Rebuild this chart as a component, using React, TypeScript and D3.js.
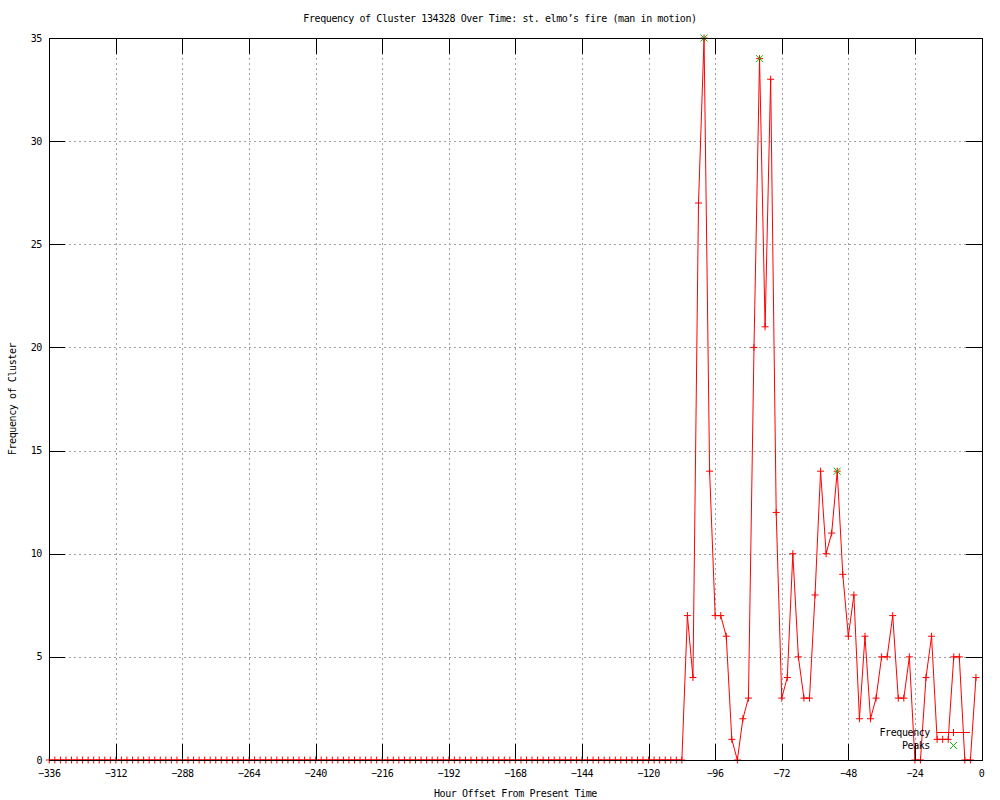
import React from "react";
import * as d3 from "d3";

const title = "Frequency of Cluster 134328 Over Time: st. elmo\u2019s fire (man in motion)";
const xLabel = "Hour Offset From Present Time";
const yLabel = "Frequency of Cluster";

const xTicks = [-336, -312, -288, -264, -240, -216, -192, -168, -144, -120, -96, -72, -48, -24, 0];
const yTicks = [0, 5, 10, 15, 20, 25, 30, 35];

// hours: every 2 hours from -336 to -2
const hours: number[] = d3.range(-336, 0, 2);

const frequency: number[] = [
  // -336 .. -110
  0, 0, 0, 0, 0, 0, 0, 0, 0, 0, 0, 0, 0, 0, 0, 0, 0, 0, 0, 0,
  0, 0, 0, 0, 0, 0, 0, 0, 0, 0, 0, 0, 0, 0, 0, 0, 0, 0, 0, 0,
  0, 0, 0, 0, 0, 0, 0, 0, 0, 0, 0, 0, 0, 0, 0, 0, 0, 0, 0, 0,
  0, 0, 0, 0, 0, 0, 0, 0, 0, 0, 0, 0, 0, 0, 0, 0, 0, 0, 0, 0,
  0, 0, 0, 0, 0, 0, 0, 0, 0, 0, 0, 0, 0, 0, 0, 0, 0, 0, 0, 0,
  0, 0, 0, 0, 0, 0, 0, 0, 0, 0, 0, 0, 0, 0,
  // -108 .. -2
  0, 7, 4, 27, 35, 14, 7, 7, 6, 1, 0, 2, 3, 20, 34, 21, 33, 12, 3, 4,
  10, 5, 3, 3, 8, 14, 10, 11, 14, 9, 6, 8, 2, 6, 2, 3, 5, 5, 7, 3,
  3, 5, 0, 0, 4, 6, 1, 1, 1, 5, 5, 0, 0, 4,
];

const peakHours = [-100, -80, -52];
const peakValues = [35, 34, 14];

const FONT = "'DejaVu Sans Mono', 'Liberation Mono', monospace";

export default function App() {
  const W = 1000, H = 800;
  const left = 49.3, right = 981.5, top = 38, bottom = 760;
  const x = d3.scaleLinear().domain([-336, 0]).range([left, right]);
  const y = d3.scaleLinear().domain([0, 35]).range([bottom, top]);
  const tick = 16;

  const pts = hours.map((h, i) => [h, frequency[i]] as [number, number]);
  const line = d3.line<[number, number]>().x(d => x(d[0])).y(d => y(d[1]));

  const textStyle: React.CSSProperties = { fontFamily: FONT, fontSize: 10, letterSpacing: -0.4 };
  const plus = (cx: number, cy: number, color: string, key: string) => (
    <path key={key} d={`M${cx - 3.5},${cy}H${cx + 3.5}M${cx},${cy - 3.5}V${cy + 3.5}`} stroke={color} strokeWidth={1} fill="none" />
  );
  const cross = (cx: number, cy: number, color: string, key: string) => (
    <path key={key} d={`M${cx - 3.5},${cy - 3.5}L${cx + 3.5},${cy + 3.5}M${cx - 3.5},${cy + 3.5}L${cx + 3.5},${cy - 3.5}`} stroke={color} strokeWidth={1} fill="none" />
  );

  return (
    <svg width={W} height={H} style={{ position: "absolute", left: 0, top: 0, background: "#fff" }}>
      <rect x={0} y={0} width={W} height={H} fill="#fff" />
      {/* grid */}
      <g stroke="#a0a0a0" strokeWidth={1} strokeDasharray="2,3" shapeRendering="crispEdges">
        {xTicks.filter(t => t !== -336 && t !== 0).map(t => (
          <line key={"gx" + t} x1={Math.round(x(t)) + 0.5} x2={Math.round(x(t)) + 0.5} y1={top} y2={bottom} />
        ))}
        {yTicks.filter(t => t !== 0 && t !== 35).map(t => (
          <line key={"gy" + t} x1={left} x2={right} y1={Math.round(y(t)) + 0.5} y2={Math.round(y(t)) + 0.5} />
        ))}
      </g>

      {/* data */}
      <path d={line(pts) || ""} fill="none" stroke="#ff0000" strokeWidth={1} />
      <g>{pts.map((p, i) => plus(x(p[0]), y(p[1]), "#ff0000", "p" + i))}</g>
      <g>{peakHours.map((h, i) => cross(x(h), y(peakValues[i]), "#00c000", "k" + i))}</g>

      {/* border and ticks */}
      <g stroke="#000" strokeWidth={1} fill="none" shapeRendering="crispEdges">
        <rect x={Math.round(left) + 0.5} y={top + 0.5} width={Math.round(right) - Math.round(left)} height={bottom - top} />
        {xTicks.map(t => {
          const px = Math.round(x(t)) + 0.5;
          return (
            <g key={"tx" + t}>
              <line x1={px} x2={px} y1={bottom} y2={bottom - tick} />
              <line x1={px} x2={px} y1={top} y2={top + tick} />
            </g>
          );
        })}
        {yTicks.map(t => {
          const py = Math.round(y(t)) + 0.5;
          return (
            <g key={"ty" + t}>
              <line x1={left} x2={left + tick} y1={py} y2={py} />
              <line x1={right} x2={right - tick} y1={py} y2={py} />
            </g>
          );
        })}
      </g>

      {/* labels */}
      <g style={textStyle} fill="#000">
        <text x={500} y={22} textAnchor="middle">{title}</text>
        {xTicks.map(t => (
          <text key={"lx" + t} x={x(t)} y={777} textAnchor="middle">{t === 0 ? "0" : "\u2212" + Math.abs(t)}</text>
        ))}
        {yTicks.map(t => (
          <text key={"ly" + t} x={42} y={y(t) + 3.5} textAnchor="end">{t}</text>
        ))}
        <text x={(left + right) / 2} y={797} textAnchor="middle">{xLabel}</text>
        <text transform={`translate(16,${(top + bottom) / 2}) rotate(-90)`} textAnchor="middle">{yLabel}</text>
        <text x={930} y={736} textAnchor="end">Frequency</text>
        <text x={930} y={749} textAnchor="end">Peaks</text>
      </g>

      {/* legend samples */}
      <line x1={937} x2={970} y1={732.5} y2={732.5} stroke="#ff0000" strokeWidth={1} />
      {plus(953.5, 732.5, "#ff0000", "lgp")}
      {cross(953.5, 745.5, "#00c000", "lgk")}
    </svg>
  );
}
